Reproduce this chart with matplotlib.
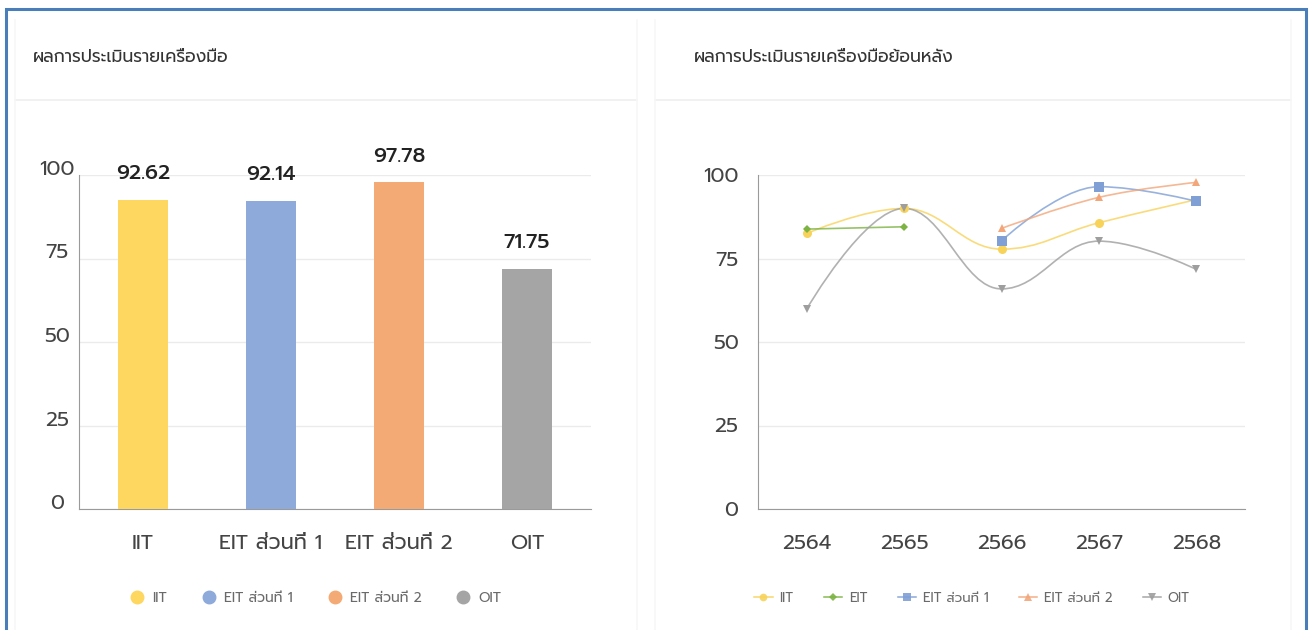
import numpy as np
import matplotlib
matplotlib.use("Agg")
import matplotlib.pyplot as plt
from matplotlib import font_manager
from matplotlib.path import Path
from matplotlib.patches import PathPatch
from matplotlib.lines import Line2D

# ---------------- data ----------------
bar_categories = ["IIT", "EIT ส่วนที่ 1", "EIT ส่วนที่ 2", "OIT"]
bar_values = [92.62, 92.14, 97.78, 71.75]
bar_colors = ["#fed760", "#8eaadb", "#f4aa74", "#a5a5a5"]

years = ["2564", "2565", "2566", "2567", "2568"]
iit = [82.5, 90.0, 77.8, 85.7, 92.62]
eit = [83.8, 84.5, None, None, None]
eit1 = [None, None, 80.3, 96.5, 92.14]
eit2 = [None, None, 84.0, 93.3, 97.78]
oit = [59.9, 90.0, 65.9, 80.2, 71.75]

line_series = [
    ("IIT", iit, "#f8d35a", "o", 6.5),
    ("EIT", eit, "#7cb342", "D", 4.5),
    ("EIT ส่วนที่ 1", eit1, "#7f9fd5", "s", 6.5),
    ("EIT ส่วนที่ 2", eit2, "#f2a679", "^", 6),
    ("OIT", oit, "#9e9e9e", "v", 6),
]

title_left = "ผลการประเมินรายเครื่องมือ"
title_right = "ผลการประเมินรายเครื่องมือย้อนหลัง"
yticks = [0, 25, 50, 75, 100]

# ---------------- fonts ----------------
names = {f.name for f in font_manager.fontManager.ttflist}
FONT = next((n for n in ["Prompt", "Kanit", "Noto Sans Thai", "Sarabun"] if n in names), "DejaVu Sans")
plt.rcParams["font.family"] = [FONT, "DejaVu Sans"]

W, H = 1309, 630
fig = plt.figure(figsize=(W / 100, H / 100), dpi=100)
fig.patch.set_facecolor("white")


def fx(px):
    return px / W


def fy(py):
    return 1 - py / H


# card decorations (very faint)
for (x0, x1) in [(15, 637), (655, 1291)]:
    fig.add_artist(Line2D([fx(x0), fx(x1)], [fy(100), fy(100)], color="#efefef", lw=1.2))
    fig.add_artist(Line2D([fx(x0), fx(x0)], [fy(20), fy(630)], color="#f7f7f7", lw=1.2))
    fig.add_artist(Line2D([fx(x1), fx(x1)], [fy(20), fy(630)], color="#f7f7f7", lw=1.2))

# blue outer border
border = "#4a7ebb"
fig.add_artist(Line2D([fx(6), fx(6), fx(1306), fx(1306)], [fy(635), fy(9), fy(9), fy(635)],
                      color=border, lw=2.2, solid_joinstyle="miter"))

fig.text(fx(33), fy(57), title_left, fontsize=12.5, color="#333333", va="center", ha="left")
fig.text(fx(694), fy(57), title_right, fontsize=12.5, color="#333333", va="center", ha="left")

axis_c = "#9a9a9a"
grid_c = "#ebebeb"
tick_c = "#444444"

# ---------------- bar chart ----------------
ax1 = fig.add_axes([fx(79), fy(509), fx(591 - 79), (509 - 175) / H])
xpos = np.arange(len(bar_categories))
ax1.bar(xpos, bar_values, width=0.39, color=bar_colors, zorder=3)
ax1.set_xlim(-0.5, len(bar_categories) - 0.5)
ax1.set_ylim(0, 100)
ax1.set_yticks(yticks)
ax1.set_xticks(xpos)
ax1.set_xticklabels(bar_categories)
ax1.grid(axis="y", color=grid_c, lw=1, zorder=0)
ax1.set_axisbelow(True)
for s in ["top", "right"]:
    ax1.spines[s].set_visible(False)
ax1.spines["left"].set_color(axis_c)
ax1.spines["bottom"].set_color(axis_c)
ax1.tick_params(axis="both", length=0, labelsize=15, labelcolor=tick_c)
ax1.tick_params(axis="y", pad=16)
ax1.tick_params(axis="x", pad=19)
for t in ax1.get_yticklabels():
    t.set_ha("center")
    t.set_va("baseline")
for xv, v in zip(xpos, bar_values):
    ax1.annotate(f"{v:.2f}", (xv, v), xytext=(0, 19), textcoords="offset points",
                 ha="center", va="center", fontsize=15, fontweight=500, color="#222222",
                 clip_on=False)

handles = [Line2D([], [], marker="o", ls="none", color=c, markersize=9) for c in bar_colors]
fig.legend(handles, bar_categories, loc="center", bbox_to_anchor=(fx(316), fy(598)), ncol=4,
           frameon=False, fontsize=10, labelcolor="#6a6a6a", handletextpad=0.6,
           columnspacing=2.5, handlelength=1.0)

# ---------------- line chart ----------------
ax2 = fig.add_axes([fx(758), fy(509), fx(1245 - 758), (509 - 175) / H])
xs = np.arange(len(years))
ax2.set_xlim(-0.5, len(years) - 0.5)
ax2.set_ylim(0, 100)
ax2.set_yticks(yticks)
ax2.set_xticks(xs)
ax2.set_xticklabels(years)
ax2.grid(axis="y", color=grid_c, lw=1, zorder=0)
ax2.set_axisbelow(True)
for s in ["top", "right"]:
    ax2.spines[s].set_visible(False)
ax2.spines["left"].set_color(axis_c)
ax2.spines["bottom"].set_color(axis_c)
ax2.tick_params(axis="both", length=0, labelsize=15, labelcolor=tick_c)
ax2.tick_params(axis="y", pad=14)
ax2.tick_params(axis="x", pad=19)


def spline_path(px, py, smoothing=1.5):
    n = len(px)
    left = [None] * n
    right = [None] * n
    d = smoothing + 1
    for i in range(1, n - 1):
        lx, ly = px[i - 1], py[i - 1]
        nx, ny = px[i + 1], py[i + 1]
        cx, cy = px[i], py[i]
        lcx = (smoothing * cx + lx) / d
        lcy = (smoothing * cy + ly) / d
        rcx = (smoothing * cx + nx) / d
        rcy = (smoothing * cy + ny) / d
        if rcx != lcx:
            corr = (rcy - lcy) * (rcx - cx) / (rcx - lcx) + cy - rcy
            lcy += corr
            rcy += corr
        if lcy > ly and lcy > cy:
            lcy = max(ly, cy)
            rcy = 2 * cy - lcy
        elif lcy < ly and lcy < cy:
            lcy = min(ly, cy)
            rcy = 2 * cy - lcy
        if rcy > ny and rcy > cy:
            rcy = max(ny, cy)
            lcy = 2 * cy - rcy
        elif rcy < ny and rcy < cy:
            rcy = min(ny, cy)
            lcy = 2 * cy - rcy
        left[i] = (lcx, lcy)
        right[i] = (rcx, rcy)
    verts = [(px[0], py[0])]
    codes = [Path.MOVETO]
    for i in range(1, n):
        c1 = right[i - 1] if right[i - 1] is not None else (px[i - 1], py[i - 1])
        c2 = left[i] if left[i] is not None else (px[i], py[i])
        verts += [c1, c2, (px[i], py[i])]
        codes += [Path.CURVE4] * 3
    return Path(verts, codes)


leg_handles = []
for z, (name, vals, color, mk, ms) in enumerate(line_series):
    idx = [i for i, v in enumerate(vals) if v is not None]
    runs = []
    cur = []
    for i in idx:
        if cur and i != cur[-1] + 1:
            runs.append(cur)
            cur = []
        cur.append(i)
    if cur:
        runs.append(cur)
    for r in runs:
        if len(r) > 1:
            p = spline_path([xs[i] for i in r], [vals[i] for i in r])
            ax2.add_patch(PathPatch(p, fill=False, edgecolor=color, lw=1.2, alpha=0.8,
                                    zorder=3 + z * 0.1, capstyle="round"))
    ax2.plot([xs[i] for i in idx], [vals[i] for i in idx], ls="none", marker=mk,
             markersize=ms, color=color, markeredgewidth=0, zorder=4 + z * 0.1, clip_on=False)
    leg_handles.append(Line2D([], [], color=color, lw=1.1, marker=mk, markersize=ms * 0.85,
                              markeredgewidth=0, alpha=0.9))

fig.legend(leg_handles, [s[0] for s in line_series], loc="center",
           bbox_to_anchor=(fx(972), fy(598)), ncol=5, frameon=False, fontsize=9.5,
           labelcolor="#6a6a6a", handletextpad=0.5, columnspacing=2.3, handlelength=1.4)

fig.savefig("out.png", dpi=100, facecolor="white")
